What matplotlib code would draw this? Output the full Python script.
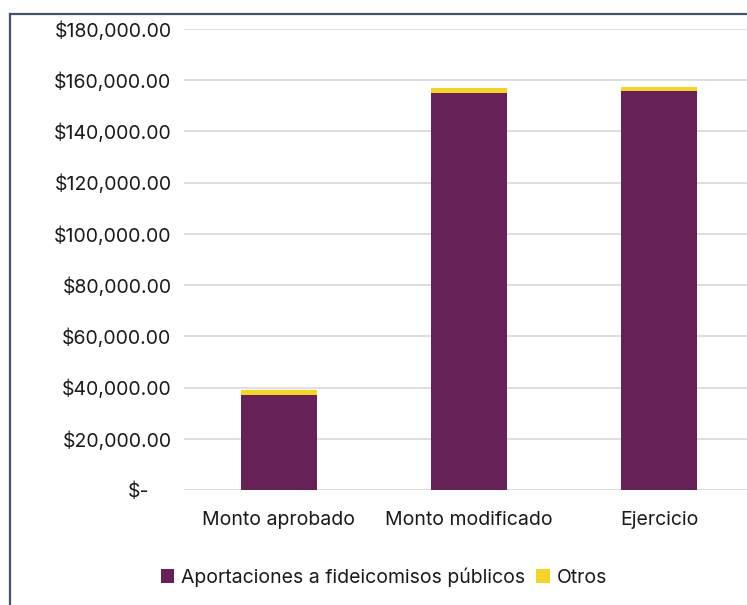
import matplotlib
matplotlib.use("Agg")
import matplotlib.pyplot as plt
import matplotlib.transforms as mtransforms
from matplotlib.lines import Line2D
from matplotlib.patches import Patch
from matplotlib.ticker import FuncFormatter

plt.rcParams['font.family'] = ['Inter', 'DejaVu Sans']

categories = ["Monto aprobado", "Monto modificado", "Ejercicio"]
aportaciones = [37100, 155000, 155800]
otros = [1950, 1950, 1550]
series_names = ["Aportaciones a fideicomisos públicos", "Otros"]
yticks = [0, 20000, 40000, 60000, 80000, 100000, 120000, 140000, 160000, 180000]

purple = "#662256"
yellow = "#F5D327"
text_color = "#1a1a1a"
fs = 14

fig = plt.figure(figsize=(7.47, 6.05), dpi=100)
ax = fig.add_axes([184 / 747, 115 / 605, 570 / 747, 461 / 605])

x = range(len(categories))
ax.bar(x, aportaciones, width=0.4, color=purple, zorder=3)
ax.bar(x, otros, width=0.4, bottom=aportaciones, color=yellow, zorder=3)

ax.set_xlim(-0.5, 2.5)
ax.set_ylim(0, 180000)
ax.set_yticks(yticks)
ax.yaxis.set_major_formatter(FuncFormatter(lambda v, p: "$-" if v == 0 else f"${v:,.2f}"))
ax.set_xticks(list(x))
ax.set_xticklabels(categories)
ax.grid(axis='y', color="#d9d9d9", linewidth=1.2, zorder=0)
ax.set_axisbelow(True)
for s in ax.spines.values():
    s.set_visible(False)
ax.tick_params(axis='both', length=0, labelsize=fs, colors=text_color)
ax.tick_params(axis='y', pad=9)
ax.tick_params(axis='x', pad=15)

# zero label sits left, like an accounting format with trailing spacing
zero_lbl = ax.get_yticklabels()[0]
zero_lbl.set_transform(zero_lbl.get_transform() +
                       mtransforms.ScaledTranslation(-22 / 100, 0, fig.dpi_scale_trans))

handles = [Patch(facecolor=purple), Patch(facecolor=yellow)]
fig.legend(handles, series_names, loc='center', bbox_to_anchor=(384 / 747, 1 - 577 / 605),
           ncol=2, frameon=False, fontsize=fs, handlelength=0.7, handleheight=0.7,
           handletextpad=0.36, columnspacing=0.56, labelcolor=text_color)

# chart frame edges
frame_color = "#44546A"
fig.add_artist(Line2D([9.5 / 747, 9.5 / 747], [0, 1 - 14 / 605], transform=fig.transFigure,
                      color=frame_color, linewidth=1.6))
fig.add_artist(Line2D([9.5 / 747, 1], [1 - 14 / 605, 1 - 14 / 605], transform=fig.transFigure,
                      color=frame_color, linewidth=1.6))

fig.savefig("out.png", dpi=100)
